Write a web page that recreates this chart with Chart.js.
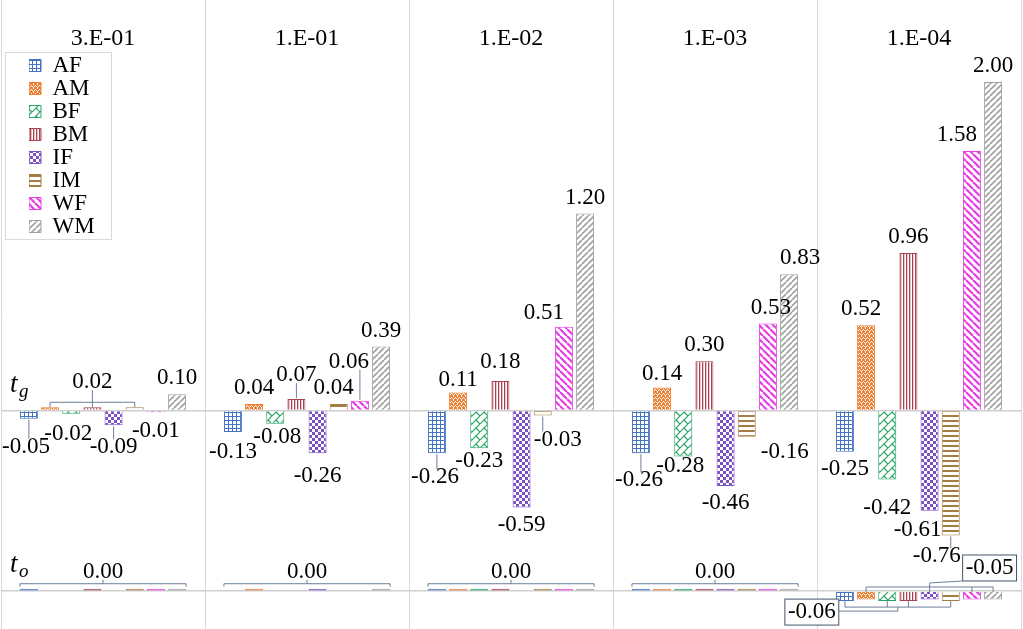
<!DOCTYPE html>
<html>
<head>
<meta charset="utf-8">
<script src="https://cdn.jsdelivr.net/npm/chart.js@4.4.1/dist/chart.umd.min.js"></script>
<style>
  html, body { margin: 0; padding: 0; background: #fff; }
  #wrap { position: relative; width: 1023px; height: 629px; }
</style>
</head>
<body>
<div id="wrap"><canvas id="c"></canvas></div>
<script>
// 범주 / 계열
const categories = ['3.E-01', '1.E-01', '1.E-02', '1.E-03', '1.E-04'];
const seriesNames = ['AF', 'AM', 'BF', 'BM', 'IF', 'IM', 'WF', 'WM'];

// t_g (위쪽 행)
const tgAF = [-0.05, -0.13, -0.26, -0.26, -0.25];
const tgAM = [0.02, 0.04, 0.11, 0.14, 0.52];
const tgBF = [-0.02, -0.08, -0.23, -0.28, -0.42];
const tgBM = [0.02, 0.07, 0.18, 0.30, 0.96];
const tgIF = [-0.09, -0.26, -0.59, -0.46, -0.61];
const tgIM = [0.02, 0.04, -0.03, -0.16, -0.76];
const tgWF = [-0.01, 0.06, 0.51, 0.53, 1.58];
const tgWM = [0.10, 0.39, 1.20, 0.83, 2.00];

// t_o (아래쪽 행)
const toAF = [0.004, 0, 0.004, 0.004, -0.06];
const toAM = [0, 0.004, 0.004, 0.004, -0.05];
const toBF = [0, 0, 0.004, 0.004, -0.06];
const toBM = [0.004, 0, 0.004, 0.004, -0.06];
const toIF = [0, 0.004, 0, 0.004, -0.05];
const toIM = [0.004, 0, 0.004, 0.004, -0.06];
const toWF = [0.004, 0, 0.004, 0.004, -0.05];
const toWM = [0.004, 0.004, 0.004, 0.004, -0.05];

const tgData = [tgAF, tgAM, tgBF, tgBM, tgIF, tgIM, tgWF, tgWM];
const toData = [toAF, toAM, toBF, toBM, toIF, toIM, toWF, toWM];

// 축 범위
const gMin = -0.85, gMax = 2.5;
const oMin = -0.23, oMax = 0.25;

const SERIF = '"Liberation Serif", "Times New Roman", serif';
const LEADER = '#6d7f9b';
const colors = ['#4472C4', '#ED7D31', '#27A465', '#A8434F', '#7B50C4', '#A67C45', '#E63CE6', '#A0A0A0'];

// 패턴 채우기
function tile(w, h, draw, c) {
  const cv = document.createElement('canvas');
  cv.width = w; cv.height = h;
  const g = cv.getContext('2d');
  g.fillStyle = '#fff';
  g.fillRect(0, 0, w, h);
  g.fillStyle = c; g.strokeStyle = c;
  draw(g, w, h);
  return g.createPattern(cv, 'repeat');
}
function diag(g, s, up, lw) {
  g.lineWidth = lw;
  g.beginPath();
  for (const k of [-s, 0, s]) {
    if (up) { g.moveTo(k, s); g.lineTo(k + s, 0); }
    else { g.moveTo(k, 0); g.lineTo(k + s, s); }
  }
  g.stroke();
}
const patternDraw = {
  AF: [4, 4, (g, w, h) => { g.fillRect(0, 0, w, 1); g.fillRect(0, 0, 1, h); }],
  AM: [4, 4, (g) => { g.fillRect(0, 0, 4, 4); g.fillStyle = '#fff'; [[1, 0], [3, 1], [0, 2], [2, 2], [1, 3]].forEach(p => g.fillRect(p[0], p[1], 1, 1)); }],
  BF: [8, 8, (g) => { diag(g, 8, true, 1.2); g.beginPath(); g.moveTo(4, 4); g.lineTo(8, 8); g.stroke(); }],
  BM: [3, 3, (g) => { g.fillRect(0, 0, 1.3, 3); }],
  IF: [6, 6, (g) => { g.fillRect(0, 0, 3, 3); g.fillRect(3, 3, 3, 3); }],
  IM: [5, 5, (g) => { g.fillRect(0, 0, 5, 2); }],
  WF: [7, 7, (g) => { diag(g, 7, false, 2.2); }],
  WM: [6, 6, (g) => { diag(g, 6, true, 1.6); }],
};
const patterns = seriesNames.map((n, i) => {
  const p = patternDraw[n];
  return tile(p[0], p[1], p[2], colors[i]);
});

const datasets = [];
seriesNames.forEach((n, i) => {
  datasets.push({
    label: n, data: tgData[i], row: 'g', yAxisID: 'yg', stack: n,
    backgroundColor: patterns[i], borderColor: colors[i], borderWidth: 1,
  });
});
seriesNames.forEach((n, i) => {
  // 0 은 보이지 않게, 아주 작은 값은 색 선으로
  datasets.push({
    label: n, data: toData[i], row: 'o', yAxisID: 'yo', stack: n, minBarLength: 2.5,
    backgroundColor: (c) => c.raw === 0 ? 'rgba(0,0,0,0)' : (Math.abs(c.raw) < 0.01 ? colors[i] : patterns[i]),
    borderColor: (c) => c.raw === 0 ? 'rgba(0,0,0,0)' : colors[i],
    borderWidth: 1,
  });
});

// 라벨 위치 보정 [dx, dy, 지시선]
const labelNudge = {
  g0AF: [-3, 11, 1], g0BF: [-3, 3], g0IF: [0, 5, 1], g0WF: [0, 2],
  g1AF: [0, 3], g1BF: [2, -4], g1BM: [0, -8, 1], g1IF: [0, 6], g1IM: [-5, 0], g1WF: [-11, -23, 1],
  g2AF: [-2, 7, 1], g2AM: [0, 3], g2BF: [0, -4], g2BM: [0, -3], g2IM: [15, 7, 1], g2WF: [-20, 2],
  g3AF: [-2, 10, 1], g3AM: [0, 2], g3BF: [-3, -8], g3IM: [38, -2], g3WF: [3, 0], g3WM: [11, 0],
  g4AM: [-5, 0], g4BF: [0, 11], g4IF: [-12, 2], g4IM: [-14, 4, 1], g4WF: [-15, 0],
};
// 같은 값 묶음 라벨
const groupedCells = { g: [0], o: [0, 1, 2, 3, 4] };
const groupStyle = {
  'g0|0.02': { dy: -8, ticks: true },
  'o4|-0.06': { dx: -86, dy: -7, side: 'below', box: true, ticks: true },
  'o4|-0.05': { dx: 60, dy: -7, box: true, ticks: true },
};

function textRect(ctx, text, x, y) {
  const w = ctx.measureText(text).width;
  return { l: x - w / 2, r: x + w / 2, t: y - 8, b: y + 8, w };
}
function leader(ctx, px, py, r) {
  const qx = Math.max(r.l, Math.min(px, r.r));
  const qy = Math.max(r.t, Math.min(py, r.b));
  if (Math.hypot(qx - px, qy - py) < 4) return;
  ctx.beginPath(); ctx.moveTo(px, py); ctx.lineTo(qx, qy); ctx.stroke();
}

function drawSingle(ctx, it, key) {
  const el = it.el, n = labelNudge[key] || [0, 0, 0];
  const top = Math.min(el.y, el.base), bottom = Math.max(el.y, el.base);
  const pos = it.v >= 0;
  const x = el.x + n[0];
  const y = (pos ? top - 16 : bottom + 17) + n[1];
  if (n[2]) leader(ctx, el.x, pos ? top - 1 : bottom + 1, textRect(ctx, it.text, x, y));
  ctx.fillText(it.text, x, y);
}

function drawGroup(ctx, members, key) {
  const st = Object.assign({ dx: 0, dy: 0, side: 'above', box: false, ticks: false }, groupStyle[key]);
  const xs = members.map(m => m.el.x);
  const hw = members[0].el.width / 2;
  const x0 = Math.min(...xs) - (st.ticks ? 0 : hw);
  const x1 = Math.max(...xs) + (st.ticks ? 0 : hw);
  const tops = members.map(m => Math.min(m.el.y, m.el.base));
  const bots = members.map(m => Math.max(m.el.y, m.el.base));
  const dir = st.side === 'above' ? -1 : 1;
  const by = dir < 0 ? Math.min(...tops) - 5 : Math.max(...bots) + 6;
  const cx = (x0 + x1) / 2;
  ctx.beginPath();
  ctx.moveTo(x0, by); ctx.lineTo(x1, by);
  if (st.ticks) {
    members.forEach((m, i) => { ctx.moveTo(m.el.x, by); ctx.lineTo(m.el.x, dir < 0 ? tops[i] : bots[i]); });
  } else {
    ctx.moveTo(x0, by); ctx.lineTo(x0, by - dir * 3);
    ctx.moveTo(x1, by); ctx.lineTo(x1, by - dir * 3);
  }
  ctx.moveTo(cx, by); ctx.lineTo(cx, by + dir * 4);
  ctx.stroke();
  const text = members[0].text;
  const lx = cx + st.dx, ly = by + dir * 12 + st.dy;
  const r = textRect(ctx, text, lx, ly);
  if (st.box) {
    r.l -= 3; r.r += 3; r.t -= 5; r.b += 5;
    ctx.save();
    ctx.fillStyle = '#fff'; ctx.strokeStyle = '#44546A';
    ctx.fillRect(r.l, r.t, r.r - r.l, r.b - r.t);
    ctx.strokeRect(r.l, r.t, r.r - r.l, r.b - r.t);
    ctx.restore();
  }
  if (st.dx || st.dy) leader(ctx, cx, by + dir * 4, r);
  ctx.fillText(text, lx, ly);
}

const barLabels = {
  id: 'barLabels',
  afterLayout(chart) {
    // 범례를 그림 영역 안 왼쪽 위로
    const lg = chart.legend, ca = chart.chartArea;
    if (!lg) return;
    lg.left = ca.left + 28; lg.right = lg.left + lg.width;
    lg.top = ca.top + 54; lg.bottom = lg.top + lg.height;
  },
  afterDatasetsDraw(chart) {
    const ctx = chart.ctx;
    const ds = chart.data.datasets;
    ctx.save();
    ctx.font = '23px ' + SERIF;
    ctx.fillStyle = '#000';
    ctx.strokeStyle = LEADER;
    ctx.lineWidth = 1;
    ctx.textAlign = 'center';
    ctx.textBaseline = 'middle';
    ['g', 'o'].forEach(row => {
      const idx = ds.map((d, i) => i).filter(i => ds[i].row === row);
      categories.forEach((cat, c) => {
        const items = idx.map((di, k) => {
          const v = ds[di].data[c];
          return { k, v, el: chart.getDatasetMeta(di).data[c], text: v.toFixed(2) };
        });
        const grouped = groupedCells[row].includes(c);
        const groups = {};
        items.forEach(it => {
          const gk = grouped ? it.text : it.text + '#' + it.k;
          (groups[gk] = groups[gk] || []).push(it);
        });
        Object.values(groups).forEach(g => {
          if (g.length > 1) drawGroup(ctx, g, row + c + '|' + g[0].text);
          else drawSingle(ctx, g[0], row + c + seriesNames[g[0].k]);
        });
      });
    });
    // 행 제목 t_g, t_o
    ctx.textAlign = 'left';
    ctx.textBaseline = 'alphabetic';
    [['yg', 'g'], ['yo', 'o']].forEach(([id, sub]) => {
      const y0 = chart.scales[id].getPixelForValue(0);
      ctx.font = 'italic 27px ' + SERIF;
      ctx.fillText('t', 10, y0 - 19);
      ctx.font = 'italic 19px ' + SERIF;
      ctx.fillText(sub, 19, y0 - 14);
    });
    ctx.restore();
  },
  afterDraw(chart) {
    // 범례 테두리
    const hb = chart.legend && chart.legend.legendHitBoxes;
    if (!hb || !hb.length) return;
    const l = Math.min(...hb.map(h => h.left)) - 24;
    const r = Math.max(...hb.map(h => h.left + h.width)) + 16;
    const t = Math.min(...hb.map(h => h.top)) - 2;
    const b = Math.max(...hb.map(h => h.top + h.height)) + 1;
    const ctx = chart.ctx;
    ctx.save();
    ctx.strokeStyle = '#d9d9d9';
    ctx.lineWidth = 1;
    ctx.strokeRect(Math.round(l) + 0.5, Math.round(t) + 0.5, Math.round(r - l), Math.round(b - t));
    ctx.restore();
  }
};

function zeroLine(c) {
  return c.tick && Math.abs(c.tick.value) < 1e-9 ? '#cfcfcf' : 'rgba(0,0,0,0)';
}

Chart.defaults.font.family = SERIF;
new Chart(document.getElementById('c').getContext('2d'), {
  type: 'bar',
  data: { labels: categories, datasets },
  options: {
    responsive: true,
    maintainAspectRatio: false,
    animation: false,
    layout: { padding: { left: 1, right: 2, top: 0, bottom: 0 } },
    datasets: { bar: { categoryPercentage: 0.83, barPercentage: 0.85 } },
    plugins: {
      tooltip: { enabled: false },
      legend: {
        position: 'chartArea',
        align: 'start',
        labels: {
          filter: (item) => item.datasetIndex < seriesNames.length,
          boxWidth: 12, boxHeight: 12, padding: 0, color: '#000',
          font: { family: SERIF, size: 23 },
        },
      },
    },
    scales: {
      x: {
        position: 'top', offset: true,
        grid: { offset: true, drawTicks: false, color: '#d9d9d9', lineWidth: 1 },
        border: { display: false },
        ticks: { mirror: true, padding: 0, maxRotation: 0, autoSkip: false, color: '#000',
          font: { family: SERIF, size: 24, lineHeight: 3.2 } },
      },
      yo: {
        type: 'linear', position: 'left', stack: 'rows', stackWeight: oMax - oMin,
        min: oMin, max: oMax,
        ticks: { display: false, stepSize: 0.1 },
        grid: { drawTicks: false, color: zeroLine, lineWidth: 1.5 },
        border: { display: false },
      },
      yg: {
        type: 'linear', position: 'left', stack: 'rows', stackWeight: gMax - gMin,
        min: gMin, max: gMax,
        ticks: { display: false, stepSize: 0.5 },
        grid: { drawTicks: false, color: zeroLine, lineWidth: 1.5 },
        border: { display: false },
      },
    },
  },
  plugins: [barLabels],
});
</script>
</body>
</html>
